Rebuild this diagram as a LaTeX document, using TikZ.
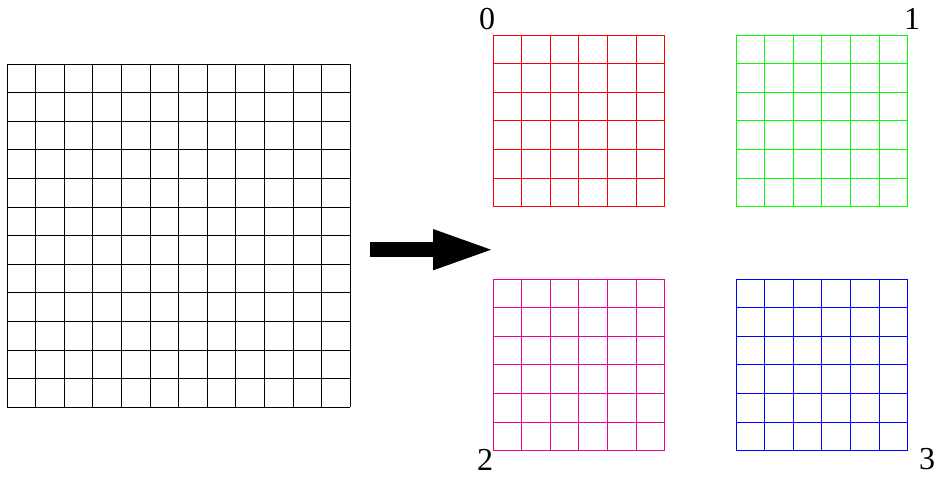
\documentclass[tikz,border=0pt]{standalone}
\usepackage{fontspec}
\newfontfamily\labelfont{Liberation Serif}
\usetikzlibrary{arrows.meta,positioning}

\begin{document}
\begin{tikzpicture}[x=1pt,y=1pt,
  meshlines/.style={line width=0.8pt,step=28.6pt},
  blocklabel/.style={inner sep=0pt,font=\labelfont\fontsize{32}{38}\selectfont},
  fatarrow/.style={line width=15pt,-{Triangle[length=63pt,width=36pt]}}]
\useasboundingbox (0,0) rectangle (941,476);

% whole grid
\begin{scope}[shift={(7,68.8)}]
\draw[meshlines,black] (0,0) grid (343.25,343.25);
\end{scope}

% four sub-grids
\begin{scope}[shift={(493,269.4)}]
\draw[meshlines,red] (0,0) grid (171.65,171.65);
\end{scope}
\begin{scope}[shift={(736,269.4)}]
\draw[meshlines,green] (0,0) grid (171.65,171.65);
\end{scope}
\begin{scope}[shift={(493,25.4)}]
\draw[meshlines,magenta] (0,0) grid (171.65,171.65);
\end{scope}
\begin{scope}[shift={(736,25.4)}]
\draw[meshlines,blue] (0,0) grid (171.65,171.65);
\end{scope}

% labels
\node[blocklabel] (lab0) at (487,457) {0};
\node[blocklabel] (lab1) at (912,457) {1};
\node[blocklabel] (lab2) at (485,16) {2};
\node[blocklabel] (lab3) at (927,17) {3};

% arrow
\coordinate (from) at (370,226.3);
\coordinate (to) at (496,226.3);
\draw[fatarrow] (from) -- (to);

\end{tikzpicture}
\end{document}
